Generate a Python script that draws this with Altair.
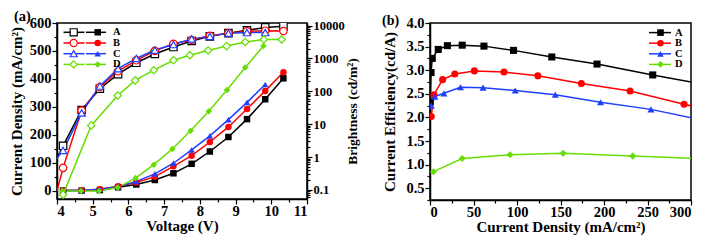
import altair as alt
import pandas as pd

FONT = "Liberation Serif"
SERIES = ["A", "B", "C", "D"]
COLORS = ["#000000", "#FF0000", "#1F3FFF", "#66DD00"]
SHAPES = ["square", "circle", "triangle-up", "diamond"]

# ---------------- panel (a) ----------------
# current density vs voltage (filled markers, left axis)
volt = [4.17, 4.69, 5.20, 5.71, 6.22, 6.74, 7.26, 7.77, 8.28, 8.80, 9.32, 9.83, 10.34]
volt_d = [4.15, 4.67, 5.18, 5.70, 6.20, 6.71, 7.23, 7.74, 8.25, 8.76, 9.27, 9.78]
jv_a = [0, 0, 2, 12, 22, 38, 62, 96, 140, 192, 256, 327, 402]
jv_b = [0, 0, 5, 16, 29, 50, 87, 125, 174, 228, 292, 357, 424]
jv_c = [0, 0, 5, 14, 33, 60, 98, 146, 196, 254, 316, 380]
jv_d = [-1, -1, -1, 11, 45, 93, 149, 214, 284, 360, 441, 518]

# brightness vs voltage (open markers, right log axis)
volt_l = [3.66, 4.17, 4.69, 5.20, 5.71, 6.22, 6.74, 7.26, 7.77, 8.28, 8.80, 9.32, 9.83, 10.34]
volt_l_d = [4.17, 4.96, 5.70, 6.19, 6.71, 7.26, 7.72, 8.23, 8.75, 9.27, 9.79, 10.29]
lum_a = [0.16, 2.2, 27, 120, 335, 740, 1370, 2230, 3400, 4700, 5900, 7200, 8800, 9600]
lum_b = [0.004, 0.47, 26, 135, 410, 880, 1700, 2800, 3650, 4900, 5900, 6700, 7000, 6850]
lum_c = [0.3, 1.6, 22, 145, 490, 1000, 1800, 2650, 3950, 4700, 5900, 6150, 6150]
lum_d = [0.072, 9.2, 75, 215, 440, 880, 1260, 1750, 2380, 3180, 3780, 3780]

# ---------------- panel (b) ----------------
cd_a = [0.3, 1.2, 2.6, 9.5, 20, 37, 62, 96, 140, 192, 256, 327]
ce_a = [2.33, 2.95, 3.25, 3.44, 3.52, 3.53, 3.51, 3.42, 3.28, 3.13, 2.90, 2.66]
cd_b = [1.5, 4.5, 14.5, 28.5, 51, 85, 124, 174, 230, 292, 357]
ce_b = [2.02, 2.48, 2.80, 2.92, 2.985, 2.96, 2.88, 2.72, 2.56, 2.28, 1.99]
cd_c = [1.5, 5.5, 16, 35, 61, 98, 144, 196, 254, 316]
ce_c = [2.25, 2.44, 2.51, 2.64, 2.63, 2.57, 2.48, 2.32, 2.17, 1.93]
cd_d = [4, 37, 92, 153, 233, 360]
ce_d = [0.85, 1.13, 1.21, 1.24, 1.18, 1.09]


def long(xs_list, ys_list, xname, yname):
    rows = []
    for s, xs, ys in zip(SERIES, xs_list, ys_list):
        for x, y in zip(xs, ys):
            rows.append({"series": s, xname: x, yname: y})
    return pd.DataFrame(rows)


dens = long([volt, volt, volt[:12], volt_d], [jv_a, jv_b, jv_c, jv_d], "V", "J")
lum = long([volt_l, volt_l, volt_l[:13], volt_l_d], [lum_a, lum_b, lum_c, lum_d], "V", "L")
eff = long([cd_a, cd_b, cd_c, cd_d], [ce_a, ce_b, ce_c, ce_d], "CD", "CE")

color = alt.Color("series:N", scale=alt.Scale(domain=SERIES, range=COLORS), legend=None)
stroke = alt.Stroke("series:N", scale=alt.Scale(domain=SERIES, range=COLORS), legend=None)
shape = alt.Shape("series:N", scale=alt.Scale(domain=SERIES, range=SHAPES), legend=None)


def tsize(test, major=5, minor=3):
    return {"condition": {"test": test, "value": major}, "value": minor}


# axes panel (a)
xa = alt.X("V:Q", scale=alt.Scale(domain=[4, 11], nice=False, zero=False),
           axis=alt.Axis(values=[4 + 0.5 * i for i in range(15)],
                         labelExpr="datum.value % 1 == 0 ? format(datum.value, 'd') : ''",
                         tickSize=tsize("datum.value % 1 == 0"), labelPadding=0,
                         title="Voltage (V)", titlePadding=1, titleFontSize=15))
ya = alt.Y("J:Q", scale=alt.Scale(domain=[-30, 600], nice=False, zero=False),
           axis=alt.Axis(orient="left", values=list(range(0, 601, 50)),
                         labelExpr="datum.value % 100 == 0 ? format(datum.value, 'd') : ''",
                         tickSize=tsize("datum.value % 100 == 0"),
                         title="Current Density (mA/cm²)", titlePadding=5))
log_vals = []
for e in range(-2, 5):
    for m in range(1, 10):
        v = round(m * 10.0 ** e, 6)
        if 0.053 <= v <= 12000:
            log_vals.append(v)
dec = "abs(log(datum.value)/LN10 - round(log(datum.value)/LN10)) < 1e-6"
yl = alt.Y("L:Q", scale=alt.Scale(type="log", domain=[0.053, 12000], nice=False),
           axis=alt.Axis(orient="right", values=log_vals,
                         labelExpr=dec + " ? format(datum.value, '~g') : ''",
                         tickSize=tsize(dec), labelFontSize=12.5,
                         title="Brightness (cd/m²)", titleAngle=270, titleBaseline="top",
                         titlePadding=1, titleFontSize=13.5))

dens_line = alt.Chart(dens).mark_line(strokeWidth=1.5, clip=True).encode(x=xa, y=ya, color=color)
dens_pts = alt.Chart(dens).mark_point(filled=True, size=42, opacity=1, clip=True).encode(
    x=xa, y=ya, color=color, shape=shape)
lum_line = alt.Chart(lum).mark_line(strokeWidth=1.5, clip=True).encode(x=xa, y=yl, color=color)
lum_pts = alt.Chart(lum).mark_point(filled=True, fill="white", strokeWidth=1.2, size=55,
                                    opacity=1, clip=True).encode(x=xa, y=yl, stroke=stroke, shape=shape)

one = pd.DataFrame({"k": [0]})


def txt(label, x, y, size, baseline="middle"):
    return alt.Chart(one).mark_text(text=label, align="left", baseline=baseline, font=FONT,
                                    fontWeight="bold", fontSize=size, color="black").encode(
        x=alt.value(x), y=alt.value(y))


def seg(x1, x2, y, c):
    return alt.Chart(one).mark_rule(color=c, strokeWidth=1.5).encode(
        x=alt.value(x1), x2=alt.value(x2), y=alt.value(y))


def mark(x, y, c, shp, open_=False, size=40):
    if open_:
        m = alt.Chart(one).mark_point(shape=shp, filled=True, fill="white", stroke=c,
                                      strokeWidth=1.2, size=size, opacity=1)
    else:
        m = alt.Chart(one).mark_point(shape=shp, filled=True, color=c, size=size, opacity=1)
    return m.encode(x=alt.value(x), y=alt.value(y))


leg_a = []
for i, (s, c, shp) in enumerate(zip(SERIES, COLORS, SHAPES)):
    y = 9.3 + 10.7 * i
    leg_a += [seg(6.5, 27.5, y, c), seg(29, 49, y, c), mark(16.7, y, c, shp, True, 50),
              mark(40.7, y, c, shp, False, 42), txt(s, 56, y, 10.5)]

left = alt.layer(dens_line, dens_pts)
right = alt.layer(lum_line, lum_pts)
panel_a = alt.layer(left, right, *leg_a, txt("(a)", -43, -13, 14.5, "top")).resolve_scale(
    y="independent").properties(width=250, height=176)

# panel (b)
xb = alt.X("CD:Q", scale=alt.Scale(domain=[0, 300], nice=False, zero=False),
           axis=alt.Axis(values=list(range(0, 301, 25)),
                         labelExpr="datum.value % 50 == 0 ? format(datum.value, 'd') : ''",
                         tickSize=tsize("datum.value % 50 == 0"), labelPadding=0,
                         title="Current Density (mA/cm²)", titlePadding=1, titleFontSize=15))
half = "abs(datum.value*2 - round(datum.value*2)) < 1e-6"
yb = alt.Y("CE:Q", scale=alt.Scale(domain=[0.25, 4.0], nice=False, zero=False),
           axis=alt.Axis(values=[0.25 * i for i in range(1, 17)],
                         labelExpr=half + " ? format(datum.value, '.1f') : ''",
                         tickSize=tsize(half), title="Current Efficiency(cd/A)", titlePadding=8))
eff_line = alt.Chart(eff).mark_line(strokeWidth=1.5, clip=True).encode(x=xb, y=yb, color=color)
eff_pts = alt.Chart(eff).mark_point(filled=True, size=50, opacity=1, clip=True).encode(
    x=xb, y=yb, color=color, shape=shape)

WB = 261
leg_b = []
for i, (s, c, shp) in enumerate(zip(SERIES, COLORS, SHAPES)):
    y = 9.6 + 10.6 * i
    leg_b += [seg(WB - 42, WB - 20, y, c), mark(WB - 30.5, y, c, shp, False, 44),
              txt(s, WB - 16, y, 10.5)]

panel_b = alt.layer(eff_line, eff_pts, *leg_b, txt("(b)", -48, -9.3, 14, "top")).properties(
    width=WB, height=177)

chart = alt.hconcat(panel_a, panel_b, spacing=21).properties(padding=0)
chart = chart.configure_view(stroke="black", strokeWidth=1.5).configure_axis(
    domainColor="black", domainWidth=1.5, tickColor="black", tickWidth=1.2,
    labelFont=FONT, labelFontWeight="bold", labelFontSize=14.5, labelColor="black",
    labelPadding=1, titleFont=FONT, titleFontWeight="bold", titleFontSize=15,
    titleColor="black", grid=False)

chart.save("out.html", embed_options={"renderer": "svg", "actions": False})
